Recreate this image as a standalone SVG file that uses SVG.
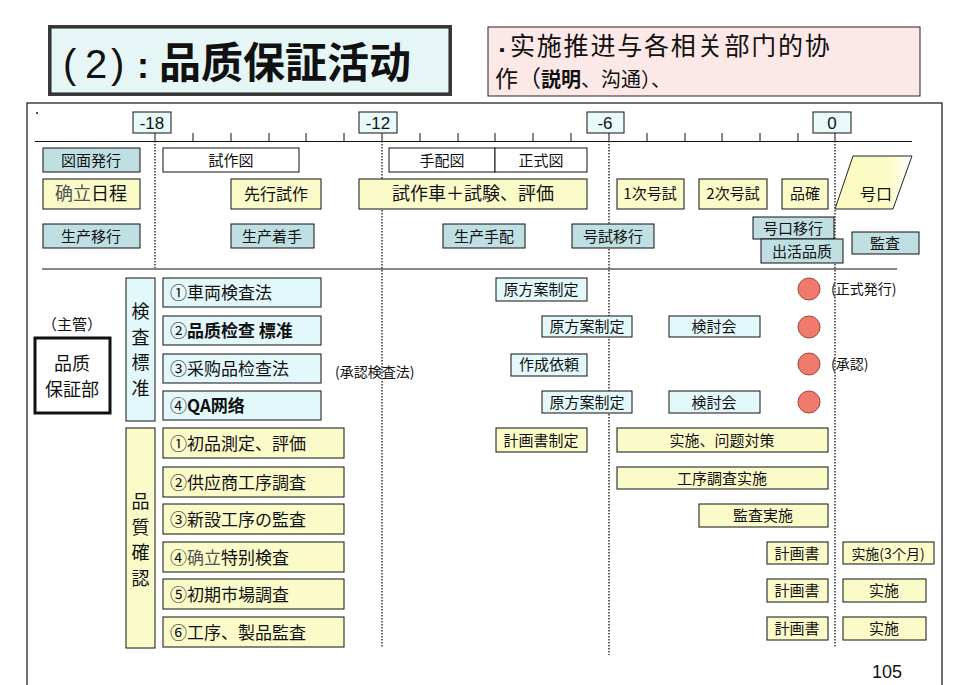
<svg xmlns="http://www.w3.org/2000/svg" width="960" height="685" viewBox="0 0 960 685">
<defs>
<style>
.t{font-family:"Noto Sans CJK JP","Noto Sans CJK SC",sans-serif;fill:#111;}
.n{font-family:"Liberation Sans",Arial,sans-serif;fill:#111;}
.tl{fill:#bfdfe3;stroke:#111;stroke-width:1;}
.yl{fill:#fbfbc9;stroke:#111;stroke-width:1;}
.cy{fill:#e3f8fa;stroke:#111;stroke-width:1;}
.wh{fill:#fff;stroke:#111;stroke-width:1;}
.mk{fill:#e8fafa;stroke:#111;stroke-width:1;}
.dot{stroke:#333;stroke-width:1.5;stroke-dasharray:1.5,1.5;fill:none;}
.tick{stroke:#111;stroke-width:1;}
.c{fill:#f07a6c;stroke:#a0463c;stroke-width:1;}
</style>
<linearGradient id="gk" x1="0" y1="0" x2="1" y2="0">
<stop offset="0" stop-color="#fbfbc0"/>
<stop offset="0.7" stop-color="#fbfbc8"/>
<stop offset="1" stop-color="#ffffff"/>
</linearGradient>
</defs>
<rect width="960" height="685" fill="#fff"/>

<!-- Title -->
<g id="title">
<rect x="48" y="25" width="404" height="71" fill="#3a3a3a"/>
<rect x="51" y="28" width="398" height="65" fill="#e6f6f6" stroke="#222" stroke-width="1"/>
<text class="n" x="63" y="78" font-size="40">(</text>
<text class="n" x="85" y="78" font-size="40">2</text>
<text class="n" x="111" y="78" font-size="40">)</text>
<text class="n" x="137" y="78" font-size="36" font-weight="bold">:</text>
<text class="t" x="159" y="78" font-size="42" font-weight="bold">品质保証活动</text>
</g>

<!-- Note -->
<g id="note">
<rect x="488" y="27" width="432" height="69" fill="#fde8e8" stroke="#222" stroke-width="1"/>
<text class="t" x="495" y="55"><tspan font-size="14">▪</tspan><tspan font-size="25" letter-spacing="1.8" dx="1">实施推进与各相关部门的协</tspan></text>
<text class="t" x="495" y="87" font-size="23">作（<tspan font-weight="bold" font-size="20">説明</tspan><tspan font-size="20">、沟通）、</tspan></text>
</g>

<!-- Frame -->
<g id="frame">
<rect x="27" y="103" width="915" height="600" fill="none" stroke="#111" stroke-width="1.2"/>
<circle cx="37" cy="113" r="1" fill="#111"/>
<line x1="35" y1="141.5" x2="912" y2="141.5" stroke="#111" stroke-width="1.2"/>
<line x1="42" y1="269" x2="897" y2="269" stroke="#111" stroke-width="1.2"/>
</g>

<!-- Connectors: axis ticks and dotted time lines -->
<g id="connectors">
<g class="tick">
<line x1="193" y1="133" x2="193" y2="141"/><line x1="231" y1="133" x2="231" y2="141"/>
<line x1="269" y1="133" x2="269" y2="141"/><line x1="306" y1="133" x2="306" y2="141"/>
<line x1="344" y1="133" x2="344" y2="141"/>
<line x1="420" y1="133" x2="420" y2="141"/><line x1="458" y1="133" x2="458" y2="141"/>
<line x1="495" y1="133" x2="495" y2="141"/><line x1="533" y1="133" x2="533" y2="141"/>
<line x1="571" y1="133" x2="571" y2="141"/>
<line x1="647" y1="133" x2="647" y2="141"/><line x1="685" y1="133" x2="685" y2="141"/>
<line x1="722" y1="133" x2="722" y2="141"/><line x1="760" y1="133" x2="760" y2="141"/>
<line x1="798" y1="133" x2="798" y2="141"/>
<line x1="155" y1="133" x2="155" y2="141"/><line x1="382" y1="133" x2="382" y2="141"/>
<line x1="609" y1="133" x2="609" y2="141"/><line x1="835" y1="133" x2="835" y2="141"/>
</g>
<line class="dot" x1="155" y1="141" x2="155" y2="268"/>
<line class="dot" x1="382" y1="141" x2="382" y2="648"/>
<line class="dot" x1="609" y1="141" x2="609" y2="655"/>
<line class="dot" x1="835" y1="141" x2="835" y2="648"/>
</g>

<!-- Markers -->
<g id="m-18"><rect class="mk" x="133" y="112" width="38" height="21"/><text class="n" x="152" y="129" font-size="17" text-anchor="middle">-18</text></g>
<g id="m-12"><rect class="mk" x="359" y="112" width="38" height="21"/><text class="n" x="378" y="129" font-size="17" text-anchor="middle">-12</text></g>
<g id="m-6"><rect class="mk" x="587" y="112" width="37" height="21"/><text class="n" x="605" y="129" font-size="17" text-anchor="middle">-6</text></g>
<g id="m0"><rect class="mk" x="813" y="112" width="38" height="21"/><text class="n" x="832" y="129" font-size="17" text-anchor="middle">0</text></g>

<!-- Row 1 -->
<g id="zumen"><rect class="tl" x="43" y="148" width="97" height="24"/><text class="t" x="91" y="166" font-size="15" text-anchor="middle">図面発行</text></g>
<g id="shisakuzu"><rect class="wh" x="163" y="148" width="136" height="24"/><text class="t" x="231" y="166" font-size="15" text-anchor="middle">試作図</text></g>
<g id="tehaizu"><rect class="wh" x="389" y="148" width="106" height="24"/><text class="t" x="442" y="166" font-size="15" text-anchor="middle">手配図</text></g>
<g id="seishikizu"><rect class="wh" x="495" y="148" width="92" height="24"/><text class="t" x="541" y="166" font-size="15" text-anchor="middle">正式図</text></g>

<!-- Row 2 -->
<g id="kakuritsu"><rect class="yl" x="43" y="179" width="97" height="30"/><text class="t" x="91" y="200" font-size="18" text-anchor="middle"><tspan fill="#555">确立</tspan>日程</text></g>
<g id="senko"><rect class="yl" x="231" y="179" width="90" height="30"/><text class="t" x="276" y="200" font-size="16" text-anchor="middle">先行試作</text></g>
<g id="shisakusha"><rect class="yl" x="359" y="179" width="228" height="30"/><text class="t" x="473" y="200" font-size="18" text-anchor="middle">試作車＋試験、評価</text></g>
<g id="goshi1"><rect class="yl" x="617" y="179" width="67" height="30"/><text class="t" x="650" y="199" font-size="15" text-anchor="middle">1次号試</text></g>
<g id="goshi2"><rect class="yl" x="699" y="179" width="68" height="30"/><text class="t" x="733" y="199" font-size="15" text-anchor="middle">2次号試</text></g>
<g id="hinkaku"><rect class="yl" x="782" y="179" width="46" height="30"/><text class="t" x="805" y="199" font-size="15" text-anchor="middle">品確</text></g>
<g id="goguchi"><polygon points="853,156 912,156 893,209 835,209" fill="url(#gk)" stroke="#222" stroke-width="1"/><text class="t" x="876" y="200" font-size="16" text-anchor="middle">号口</text></g>

<!-- Row 3 -->
<g id="seisanikou"><rect class="tl" x="43" y="224" width="97" height="24"/><text class="t" x="91" y="242" font-size="15" text-anchor="middle">生产移行</text></g>
<g id="chakushu"><rect class="tl" x="231" y="224" width="83" height="24"/><text class="t" x="272" y="242" font-size="15" text-anchor="middle">生产着手</text></g>
<g id="tehai"><rect class="tl" x="443" y="224" width="82" height="24"/><text class="t" x="484" y="242" font-size="15" text-anchor="middle">生产手配</text></g>
<g id="goshiikou"><rect class="tl" x="572" y="224" width="82" height="24"/><text class="t" x="613" y="242" font-size="15" text-anchor="middle">号試移行</text></g>
<g id="goguchiikou"><rect class="tl" x="753" y="217" width="81" height="22"/><text class="t" x="793" y="234" font-size="15" text-anchor="middle">号口移行</text></g>
<g id="shukka"><rect class="tl" x="761" y="239" width="82" height="24"/><text class="t" x="802" y="257" font-size="15" text-anchor="middle">出活品质</text></g>
<g id="kansa"><rect class="tl" x="852" y="232" width="67" height="22"/><text class="t" x="885" y="249" font-size="15" text-anchor="middle">監査</text></g>

<!-- Left department -->
<g id="shukan"><text class="t" x="72" y="330" font-size="15" text-anchor="middle">（主管）</text></g>
<g id="dept"><rect x="35" y="338" width="75" height="75" fill="#fff" stroke="#111" stroke-width="3"/><text class="t" x="72" y="370" font-size="18" text-anchor="middle">品质</text><text class="t" x="72" y="396" font-size="18" text-anchor="middle">保証部</text></g>

<!-- Inspection standard group -->
<g id="kensa-hyojun"><rect class="cy" x="126" y="278" width="29" height="143"/>
<text class="t" x="140.5" y="318" font-size="18" text-anchor="middle">検</text>
<text class="t" x="140.5" y="344" font-size="18" text-anchor="middle">査</text>
<text class="t" x="140.5" y="369" font-size="18" text-anchor="middle">標</text>
<text class="t" x="140.5" y="395" font-size="18" text-anchor="middle">准</text></g>
<g id="k1"><rect class="cy" x="163" y="278" width="158" height="29"/><text class="t" x="170" y="299" font-size="17">①車両検査法</text></g>
<g id="k2"><rect class="cy" x="163" y="316" width="158" height="29"/><text class="t" x="170" y="337" font-size="17">②<tspan font-weight="bold">品质检查 標准</tspan></text></g>
<g id="k3"><rect class="cy" x="163" y="354" width="158" height="29"/><text class="t" x="170" y="375" font-size="17">③采购品检查法</text></g>
<g id="k4"><rect class="cy" x="163" y="391" width="158" height="29"/><text class="t" x="170" y="412" font-size="17">④<tspan font-weight="bold">QA网络</tspan></text></g>
<g id="shonin-kensaho"><text class="t" x="335" y="377" font-size="14">(承認検査法)</text></g>

<!-- Quality confirmation group -->
<g id="hinshitsu-kakunin"><rect class="yl" x="126" y="428" width="29" height="220"/>
<text class="t" x="140.5" y="508" font-size="18" text-anchor="middle">品</text>
<text class="t" x="140.5" y="534" font-size="18" text-anchor="middle">質</text>
<text class="t" x="140.5" y="559" font-size="18" text-anchor="middle">確</text>
<text class="t" x="140.5" y="585" font-size="18" text-anchor="middle">認</text></g>
<g id="q1"><rect class="yl" x="163" y="428" width="181" height="30"/><text class="t" x="170" y="450" font-size="17">①初品測定、評価</text></g>
<g id="q2"><rect class="yl" x="163" y="467" width="181" height="30"/><text class="t" x="170" y="489" font-size="17">②供应商工序調査</text></g>
<g id="q3"><rect class="yl" x="163" y="504" width="181" height="30"/><text class="t" x="170" y="526" font-size="17">③新設工序の監査</text></g>
<g id="q4"><rect class="yl" x="163" y="542" width="181" height="30"/><text class="t" x="170" y="564" font-size="17">④<tspan fill="#555">确立</tspan>特别検査</text></g>
<g id="q5"><rect class="yl" x="163" y="579" width="181" height="30"/><text class="t" x="170" y="601" font-size="17">⑤初期市場調査</text></g>
<g id="q6"><rect class="yl" x="163" y="617" width="181" height="30"/><text class="t" x="170" y="639" font-size="17">⑥工序、製品監査</text></g>

<!-- Standard timeline items -->
<g id="r1a"><rect class="cy" x="496" y="278" width="91" height="23"/><text class="t" x="541" y="295" font-size="15" text-anchor="middle">原方案制定</text></g>
<g id="r1c"><circle class="c" cx="809" cy="289" r="11"/></g>
<g id="r1t"><text class="t" x="831" y="294" font-size="14">(正式発行)</text></g>
<g id="r2a"><rect class="cy" x="542" y="316" width="90" height="21"/><text class="t" x="587" y="332" font-size="15" text-anchor="middle">原方案制定</text></g>
<g id="r2b"><rect class="cy" x="669" y="316" width="91" height="21"/><text class="t" x="714" y="332" font-size="15" text-anchor="middle">検討会</text></g>
<g id="r2c"><circle class="c" cx="809" cy="327" r="11"/></g>
<g id="r3a"><rect class="cy" x="511" y="354" width="76" height="22"/><text class="t" x="549" y="370" font-size="15" text-anchor="middle">作成依頼</text></g>
<g id="r3c"><circle class="c" cx="809" cy="364" r="11"/></g>
<g id="r3t"><text class="t" x="831" y="369" font-size="14">(承認)</text></g>
<g id="r4a"><rect class="cy" x="542" y="391" width="90" height="22"/><text class="t" x="587" y="408" font-size="15" text-anchor="middle">原方案制定</text></g>
<g id="r4b"><rect class="cy" x="669" y="391" width="91" height="22"/><text class="t" x="714" y="408" font-size="15" text-anchor="middle">検討会</text></g>
<g id="r4c"><circle class="c" cx="809" cy="402" r="11"/></g>

<!-- Quality timeline items -->
<g id="s1a"><rect class="yl" x="496" y="428" width="91" height="24"/><text class="t" x="541" y="446" font-size="15" text-anchor="middle">計画書制定</text></g>
<g id="s1b"><rect class="yl" x="617" y="428" width="211" height="24"/><text class="t" x="722" y="446" font-size="15" text-anchor="middle">实施、问题対策</text></g>
<g id="s2"><rect class="yl" x="617" y="467" width="211" height="22"/><text class="t" x="722" y="484" font-size="15" text-anchor="middle">工序調査实施</text></g>
<g id="s3"><rect class="yl" x="699" y="504" width="129" height="23"/><text class="t" x="763" y="521" font-size="15" text-anchor="middle">監査実施</text></g>
<g id="s4a"><rect class="yl" x="767" y="542" width="61" height="22"/><text class="t" x="797" y="559" font-size="15" text-anchor="middle">計画書</text></g>
<g id="s4b"><rect class="yl" x="843" y="542" width="91" height="22"/><text class="t" x="888" y="559" font-size="14" text-anchor="middle">实施(3个月)</text></g>
<g id="s5a"><rect class="yl" x="767" y="579" width="61" height="23"/><text class="t" x="797" y="596" font-size="15" text-anchor="middle">計画書</text></g>
<g id="s5b"><rect class="yl" x="843" y="579" width="83" height="23"/><text class="t" x="884" y="596" font-size="15" text-anchor="middle">实施</text></g>
<g id="s6a"><rect class="yl" x="767" y="617" width="61" height="23"/><text class="t" x="797" y="634" font-size="15" text-anchor="middle">計画書</text></g>
<g id="s6b"><rect class="yl" x="843" y="617" width="83" height="23"/><text class="t" x="884" y="634" font-size="15" text-anchor="middle">实施</text></g>

<g id="page"><text class="n" x="887" y="678" font-size="18" text-anchor="middle">105</text></g>
</svg>
